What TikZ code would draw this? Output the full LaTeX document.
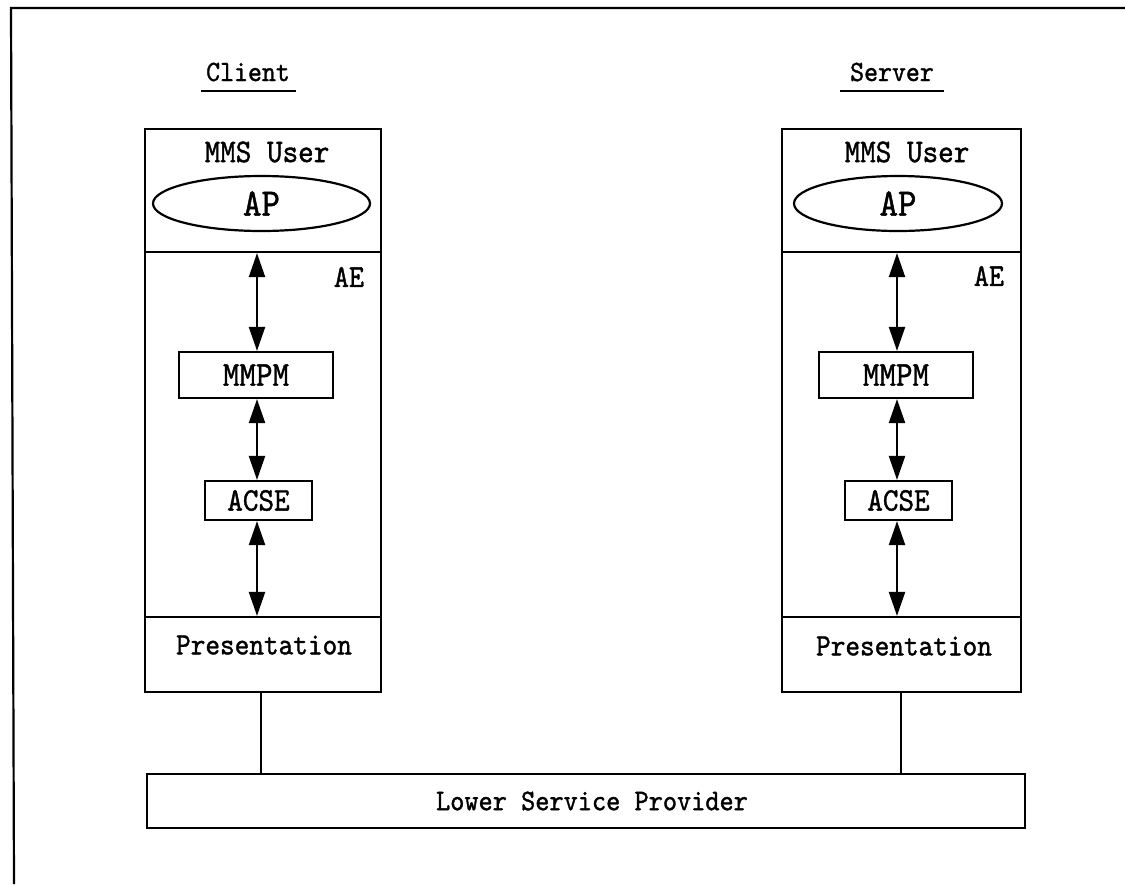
\documentclass[tikz,border=0pt]{standalone}
\usepackage{fontspec}
\usetikzlibrary{arrows.meta,shapes.geometric}
\newfontfamily\plotfont{lmmono10-regular}[Extension=.otf, FakeStretch=0.9, FakeBold=1.2]
\newcommand\myfs[1]{\fontsize{#1}{#1}\selectfont\plotfont}
\begin{document}
\begin{tikzpicture}[x=1pt,y=-1pt,
  ln/.style={line width=2.2pt},
  blk/.style={draw, line width=2.2pt, rectangle, inner sep=0pt},
  lbl/.style={inner sep=0pt, font=\myfs{31}},
  dbl/.style={line width=2.2pt, {Triangle[length=24pt,width=16pt]}-{Triangle[length=24pt,width=16pt]}}
]
\useasboundingbox (0,0) rectangle (1125,884);
% frame
\draw[ln] (1125,8) -- (11,8) -- (14,884);

% headings
\node[lbl, font=\myfs{29.5}] (client) at (248,72) {Client};
\node[lbl, font=\myfs{29.5}] (server) at (892,72) {Server};
\coordinate (cu1) at (201,91); \coordinate (cu2) at (296,91);
\coordinate (su1) at (840,91); \coordinate (su2) at (944,91);
\draw[ln] (cu1) -- (cu2);
\draw[ln] (su1) -- (su2);

% ---------- client column
\node[blk, minimum width=236pt, minimum height=123pt] (userL) at (263,190.5) {};
\node[blk, minimum width=236pt, minimum height=365pt] (aeL) at (263,434.5) {};
\node[blk, minimum width=236pt, minimum height=75pt] (presL) at (263,654.5) {};
\node[lbl, font=\myfs{33}] (mmsL) at (267,152) {MMS User};
\node[draw, ln, ellipse, inner sep=0pt, minimum width=217pt, minimum height=55pt, font=\myfs{39}] (apL) at (261.5,203.5) {AP};
\node[lbl, font=\myfs{32}] (aeTL) at (349,277) {AE};
\node[blk, minimum width=154pt, minimum height=46pt, font=\myfs{35}] (mmpmL) at (256,375) {MMPM};
\node[blk, minimum width=107pt, minimum height=39pt, font=\myfs{33}] (acseL) at (258.5,500.5) {ACSE};
\node[lbl] (presTL) at (264,645) {Presentation};
\coordinate (axL) at (257,0);
\draw[dbl] (userL.south -| axL) -- (mmpmL.north -| axL);
\draw[dbl] (mmpmL.south -| axL) -- (acseL.north -| axL);
\draw[dbl] (acseL.south -| axL) -- (presL.north -| axL);

% ---------- server column
\node[blk, minimum width=239pt, minimum height=123pt] (userR) at (901.5,190.5) {};
\node[blk, minimum width=239pt, minimum height=365pt] (aeR) at (901.5,434.5) {};
\node[blk, minimum width=239pt, minimum height=75pt] (presR) at (901.5,654.5) {};
\node[lbl, font=\myfs{33}] (mmsR) at (907,152) {MMS User};
\node[draw, ln, ellipse, inner sep=0pt, minimum width=208pt, minimum height=55pt, font=\myfs{39}] (apR) at (898,203.5) {AP};
\node[lbl, font=\myfs{32}] (aeTR) at (989,276) {AE};
\node[blk, minimum width=154pt, minimum height=46pt, font=\myfs{35}] (mmpmR) at (896,375) {MMPM};
\node[blk, minimum width=107pt, minimum height=39pt, font=\myfs{33}] (acseR) at (898.5,500.5) {ACSE};
\node[lbl] (presTR) at (904,646) {Presentation};
\coordinate (axR) at (897,0);
\draw[dbl] (userR.south -| axR) -- (mmpmR.north -| axR);
\draw[dbl] (mmpmR.south -| axR) -- (acseR.north -| axR);
\draw[dbl] (acseR.south -| axR) -- (presR.north -| axR);

% ---------- lower service provider
\node[blk, minimum width=878pt, minimum height=54pt] (lsp) at (586,801) {};
\node[lbl, font=\myfs{30}] (lspT) at (592,801) {Lower Service Provider};
\coordinate (lxL) at (261,0);
\coordinate (lxR) at (901,0);
\draw[ln] (presL.south -| lxL) -- (lsp.north -| lxL);
\draw[ln] (presR.south -| lxR) -- (lsp.north -| lxR);
\end{tikzpicture}
\end{document}
